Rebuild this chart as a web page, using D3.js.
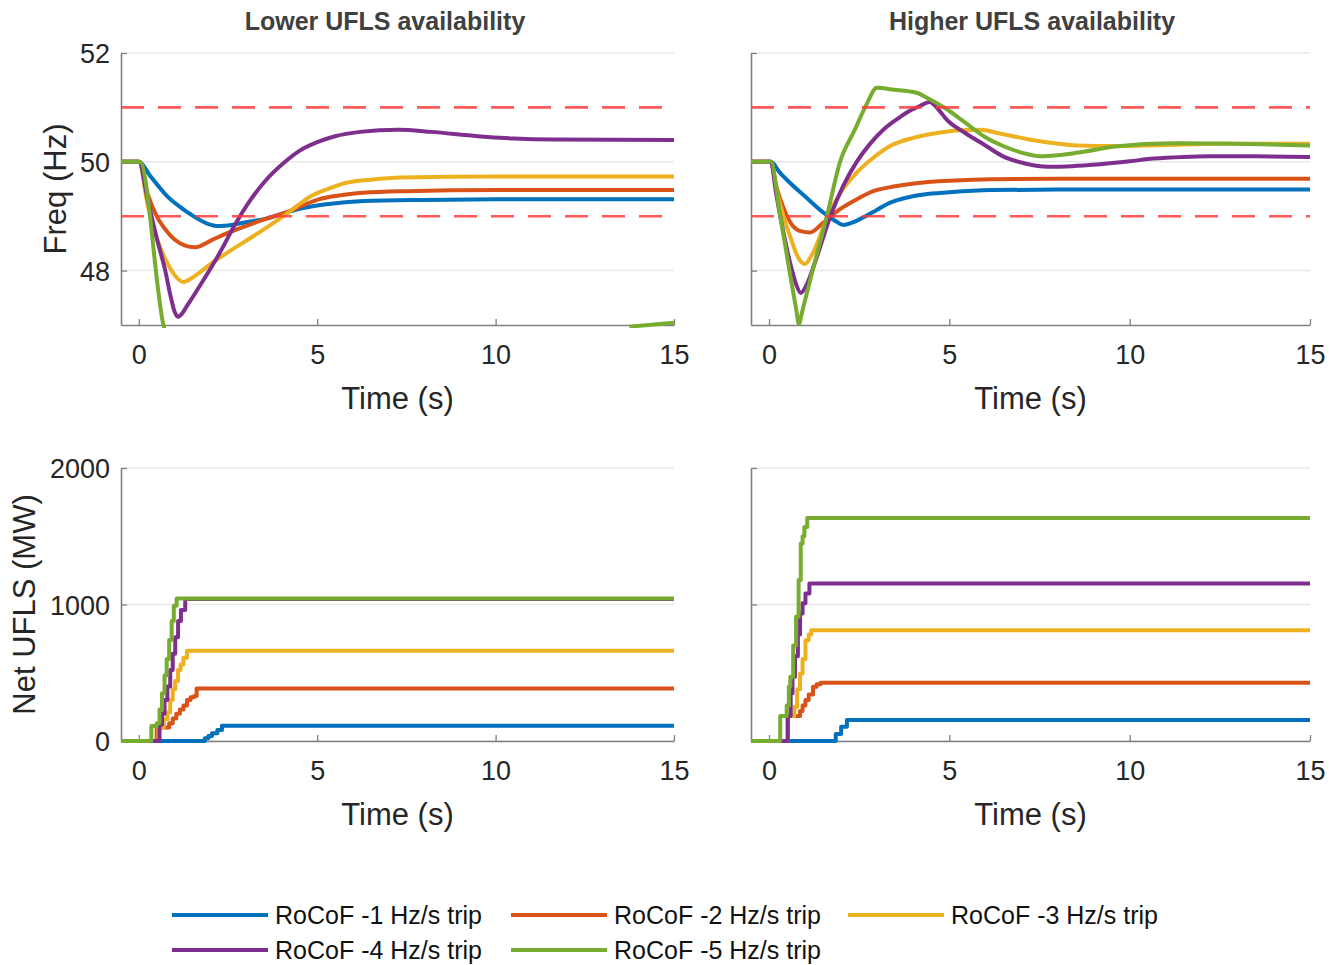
<!DOCTYPE html>
<html><head><meta charset="utf-8">
<script src="https://cdn.jsdelivr.net/npm/d3@7"></script>
<style>
body{margin:0;background:#fff}
text{font-family:"Liberation Sans",Arial,Helvetica,sans-serif}
</style>
</head><body>
<svg id="chart" width="1338" height="965"></svg>
<script>
// ---------- labels / categories ----------
const panelTitles = ["Lower UFLS availability", "Higher UFLS availability"];
const seriesNames = ["RoCoF -1 Hz/s trip","RoCoF -2 Hz/s trip","RoCoF -3 Hz/s trip","RoCoF -4 Hz/s trip","RoCoF -5 Hz/s trip"];
const seriesColors = ["#0072BD","#D95319","#EDB120","#7E2F8E","#77AC30"];
const xTicks = [0,5,10,15];
const xDomain = [-0.5,15];
const freqTicks = [52,50,48];
const freqDomain = [47,52];
const uflsTicks = [0,1000,2000];
const uflsDomain = [0,2000];
const freqLimitLines = [49,51];

// ---------- frequency, lower UFLS availability: [time s, Hz] ----------
const freqLow1 = [[-0.5,50],[0,50],[0.32,49.74],[0.79,49.37],[1.2,49.15],[1.44,49.04],[1.9,48.87],[2.24,48.82],[2.6,48.84],[3.0,48.89],[3.6,48.96],[4.09,49.06],[4.6,49.15],[5.25,49.22],[6.3,49.28],[8,49.3],[10,49.31],[15,49.31]];
const freqLow2 = [[-0.5,50],[0,50],[0.25,49.4],[0.5,49.0],[0.75,48.75],[1.0,48.57],[1.3,48.46],[1.58,48.43],[2.07,48.57],[2.6,48.72],[3.13,48.85],[3.6,48.96],[4.09,49.06],[4.6,49.2],[5.04,49.31],[5.6,49.38],[6.3,49.43],[7.5,49.46],[10,49.48],[15,49.48]];
const freqLow3 = [[-0.5,50],[0,50],[0.25,49.2],[0.5,48.6],[0.75,48.2],[1.0,47.92],[1.26,47.79],[1.5,47.87],[2.07,48.15],[2.6,48.38],[3.13,48.6],[3.6,48.8],[4.09,49.02],[4.5,49.22],[4.83,49.37],[5.3,49.5],[5.79,49.61],[6.5,49.67],[7.38,49.71],[10,49.73],[15,49.73]];
const freqLow4 = [[-0.5,50],[0,50],[0.25,49.3],[0.5,48.6],[0.74,48.0],[0.9,47.5],[1.0,47.25],[1.09,47.15],[1.2,47.2],[1.35,47.35],[1.72,47.73],[2.28,48.34],[2.7,48.85],[3.13,49.3],[3.56,49.66],[4.1,50.0],[4.5,50.2],[5.0,50.36],[5.5,50.47],[6.2,50.55],[7.27,50.59],[8.2,50.55],[9.5,50.47],[10.5,50.43],[11.6,50.41],[15,50.4]];
const freqLow5 = [[-0.5,50],[0.03,50],[0.69,47.0],[0.75,46.85],[1.0,NaN],[13.6,NaN],[13.75,46.97],[15,47.04]];

// ---------- frequency, higher UFLS availability ----------
const freqHigh1 = [[-0.5,50],[0.05,50],[0.3,49.8],[0.57,49.62],[1.04,49.34],[1.5,49.07],[1.8,48.93],[2.06,48.84],[2.3,48.88],[2.62,48.98],[3.0,49.12],[3.36,49.25],[3.8,49.34],[4.29,49.4],[5,49.44],[6.15,49.48],[8,49.49],[15,49.49]];
const freqHigh2 = [[-0.5,50],[0.05,50],[0.2,49.55],[0.38,49.19],[0.66,48.82],[0.9,48.72],[1.13,48.7],[1.5,48.88],[1.97,49.13],[2.4,49.3],[2.89,49.46],[3.5,49.55],[4.29,49.62],[5,49.65],[6.15,49.68],[8,49.69],[15,49.69]];
const freqHigh3 = [[-0.5,50],[0.05,50],[0.2,49.5],[0.4,49.0],[0.6,48.6],[0.8,48.25],[0.99,48.12],[1.2,48.3],[1.63,49.0],[2.0,49.45],[2.43,49.8],[2.9,50.08],[3.36,50.29],[4.0,50.44],[4.75,50.54],[5.3,50.58],[5.86,50.59],[6.4,50.52],[7.0,50.44],[7.8,50.35],[8.57,50.3],[9.5,50.29],[11,50.31],[12.5,50.33],[15,50.33]];
const freqHigh4 = [[-0.5,50],[0.05,50],[0.2,49.4],[0.4,48.7],[0.6,48.1],[0.75,47.75],[0.88,47.59],[1.05,47.75],[1.3,48.2],[1.7,49.0],[2.05,49.55],[2.43,50.0],[2.8,50.33],[3.17,50.59],[3.5,50.76],[3.88,50.93],[4.2,51.03],[4.45,51.1],[4.7,50.96],[4.92,50.78],[5.44,50.53],[6.0,50.3],[6.49,50.1],[7.1,49.97],[7.74,49.91],[8.4,49.92],[9.09,49.95],[10,50.01],[10.66,50.06],[11.5,50.09],[12.2,50.1],[13.5,50.1],[15,50.09]];
const freqHigh5 = [[-0.5,50],[0.05,50],[0.3,49.05],[0.57,47.98],[0.75,47.3],[0.83,47.02],[0.92,47.25],[1.2,47.98],[1.6,48.99],[1.97,50.0],[2.38,50.59],[2.7,51.05],[2.99,51.36],[3.4,51.33],[4.09,51.27],[4.4,51.17],[4.9,50.98],[5.44,50.72],[6.0,50.45],[6.49,50.29],[7.0,50.17],[7.53,50.1],[8.0,50.12],[8.57,50.17],[9.6,50.28],[11.2,50.34],[13,50.33],[15,50.3]];

// ---------- net UFLS (MW), lower availability: [time s, MW] stepwise ----------
const uflsLow1 = [[-0.5,0],[1.85,20],[1.95,37],[2.05,56],[2.2,80],[2.33,112],[15,112]];
const uflsLow2 = [[-0.5,0],[0.5,98],[0.85,130],[0.95,165],[1.05,200],[1.15,230],[1.25,260],[1.35,300],[1.45,320],[1.55,330],[1.62,385],[15,385]];
const uflsLow3 = [[-0.5,0],[0.55,98],[0.7,160],[0.8,210],[0.88,300],[0.95,380],[1.02,440],[1.1,520],[1.17,560],[1.25,610],[1.35,661],[15,661]];
const uflsLow4 = [[-0.5,0],[0.58,120],[0.65,200],[0.72,300],[0.8,400],[0.88,520],[0.95,640],[1.02,760],[1.1,880],[1.18,960],[1.3,1040],[15,1040]];
const uflsLow5 = [[-0.5,0],[0.35,110],[0.5,130],[0.58,230],[0.65,350],[0.72,480],[0.78,600],[0.85,740],[0.92,880],[0.98,990],[1.06,1044],[15,1044]];

// ---------- net UFLS (MW), higher availability ----------
const uflsHigh1 = [[-0.5,0],[1.85,51],[2.0,105],[2.16,154],[15,154]];
const uflsHigh2 = [[-0.5,0],[0.52,183],[0.86,220],[0.93,260],[1.01,300],[1.1,340],[1.22,398],[1.32,415],[1.43,427],[15,427]];
const uflsHigh3 = [[-0.5,0],[0.52,183],[0.7,250],[0.78,380],[0.86,495],[0.93,600],[1.01,739],[1.1,780],[1.17,812],[15,812]];
const uflsHigh4 = [[-0.5,0],[0.52,183],[0.6,350],[0.65,471],[0.72,620],[0.8,780],[0.86,934],[0.93,1010],[1.01,1080],[1.12,1154],[15,1154]];
const uflsHigh5 = [[-0.5,0],[0.31,183],[0.49,260],[0.55,400],[0.59,471],[0.67,700],[0.75,910],[0.82,1180],[0.88,1446],[0.93,1500],[0.98,1568],[1.06,1634],[15,1634]];

// ---------- layout ----------
const svg = d3.select("#chart");
const FONT_TICK = 27, FONT_LABEL = 31, FONT_TITLE = 25, FONT_LEG = 25;
const axisColor = "#808080", textColor = "#262626";

const panels = [
  {id:"tl", series:[freqLow1,freqLow2,freqLow3,freqLow4,freqLow5], x:[121,674], y:[325,53], yDomain:freqDomain, yTicks:freqTicks, yLabels:true, freq:true, title:panelTitles[0], titleX:385, yTitle:"Freq (Hz)", yTitleX:55},
  {id:"tr", series:[freqHigh1,freqHigh2,freqHigh3,freqHigh4,freqHigh5], x:[751,1310], y:[325,53], yDomain:freqDomain, yTicks:freqTicks, yLabels:false, freq:true, title:panelTitles[1], titleX:1032},
  {id:"bl", series:[uflsLow1,uflsLow2,uflsLow3,uflsLow4,uflsLow5], x:[121,674], y:[741,468], yDomain:uflsDomain, yTicks:uflsTicks, yLabels:true, freq:false, yTitle:"Net UFLS (MW)", yTitleX:24},
  {id:"br", series:[uflsHigh1,uflsHigh2,uflsHigh3,uflsHigh4,uflsHigh5], x:[751,1310], y:[741,468], yDomain:uflsDomain, yTicks:uflsTicks, yLabels:false, freq:false}
];

panels.forEach(p => {
  const xs = d3.scaleLinear().domain(xDomain).range(p.x);
  const ys = d3.scaleLinear().domain(p.yDomain).range(p.y);
  const g = svg.append("g");

  // gridlines
  g.selectAll("line.grid").data(p.yTicks).join("line")
    .attr("x1", p.x[0]).attr("x2", p.x[1])
    .attr("y1", d => ys(d)).attr("y2", d => ys(d))
    .attr("stroke", "#e8e8e8").attr("stroke-width", 1.5);

  // clip
  svg.append("clipPath").attr("id","clip-"+p.id).append("rect")
    .attr("x", p.x[0]-2).attr("y", p.y[1]-3)
    .attr("width", p.x[1]-p.x[0]+5).attr("height", p.y[0]-p.y[1]+6);

  // axes
  const xAxis = d3.axisBottom(xs).tickValues(xTicks).tickFormat(d3.format("d"))
    .tickSizeInner(-6).tickSizeOuter(0).tickPadding(20);
  const gx = g.append("g").attr("transform", `translate(0,${p.y[0]})`).call(xAxis);
  const yAxis = d3.axisLeft(ys).tickValues(p.yTicks).tickFormat(d3.format("d"))
    .tickSizeInner(-6).tickSizeOuter(0).tickPadding(11);
  if (!p.yLabels) yAxis.tickFormat("");
  const gy = g.append("g").attr("transform", `translate(${p.x[0]},0)`).call(yAxis);
  [gx, gy].forEach(a => {
    a.select(".domain").attr("stroke", axisColor).attr("stroke-width", 1.6);
    a.selectAll(".tick line").attr("stroke", axisColor).attr("stroke-width", 1.3);
    a.selectAll(".tick text").attr("fill", textColor).attr("font-size", FONT_TICK)
      .style("font-family", '"Liberation Sans",Arial,sans-serif');
  });
  gy.selectAll(".tick text").attr("dy", "0.36em");

  // series
  const line = d3.line()
    .defined(d => !isNaN(d[1]))
    .x(d => xs(d[0])).y(d => ys(d[1]))
    .curve(p.freq ? d3.curveMonotoneX : d3.curveStepAfter);
  const sg = g.append("g").attr("clip-path", `url(#clip-${p.id})`);
  p.series.forEach((s, i) => {
    sg.append("path").datum(s).attr("d", line)
      .attr("fill","none").attr("stroke", seriesColors[i])
      .attr("stroke-width", 4).attr("stroke-linejoin","round").attr("stroke-linecap","butt");
  });

  // limit lines
  if (p.freq) {
    g.selectAll("line.lim").data(freqLimitLines).join("line")
      .attr("x1", p.x[0]).attr("x2", p.x[1])
      .attr("y1", d => ys(d)).attr("y2", d => ys(d))
      .attr("stroke", "#ff3b3b").attr("stroke-opacity", 0.85)
      .attr("stroke-width", 2.6).attr("stroke-dasharray", "23,14");
  }

  // x title
  g.append("text").attr("x", (p.x[0]+p.x[1])/2).attr("y", p.y[0]+84)
    .attr("text-anchor","middle").attr("font-size", FONT_LABEL).attr("fill", textColor)
    .text("Time (s)");

  // y title
  if (p.yTitle) {
    const cy = (p.y[0]+p.y[1])/2;
    g.append("text").attr("transform", `translate(${p.yTitleX},${cy}) rotate(-90)`)
      .attr("text-anchor","middle").attr("dy","0.35em")
      .attr("font-size", FONT_LABEL).attr("fill", textColor).text(p.yTitle);
  }
  if (p.title) {
    g.append("text").attr("x", p.titleX).attr("y", 30)
      .attr("text-anchor","middle").attr("font-size", FONT_TITLE).attr("font-weight","bold")
      .attr("fill","#404040").text(p.title);
  }
});

// ---------- legend ----------
const legendPos = [[172,915],[511,915],[848,915],[172,950],[511,950]];
const lg = svg.append("g");
seriesNames.forEach((name, i) => {
  const [lx, ly] = legendPos[i];
  lg.append("line").attr("x1", lx).attr("x2", lx+96).attr("y1", ly).attr("y2", ly)
    .attr("stroke", seriesColors[i]).attr("stroke-width", 4);
  lg.append("text").attr("x", lx+103).attr("y", ly).attr("dy","0.36em")
    .attr("font-size", FONT_LEG).attr("fill","#111").text(name);
});
</script>
</body></html>
